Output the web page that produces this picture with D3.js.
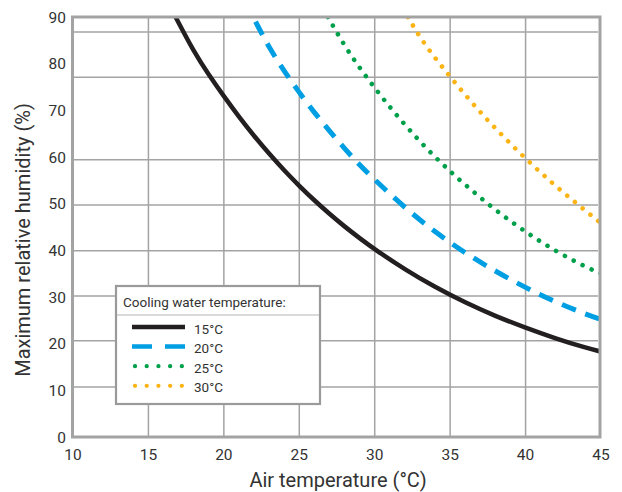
<!DOCTYPE html>
<html>
<head>
<meta charset="utf-8">
<script src="https://cdn.jsdelivr.net/npm/d3@7"></script>
<style>
  body { margin: 0; background: #fff; }
  text { font-family: Roboto, "Open Sans", sans-serif; fill: #333; }
</style>
</head>
<body>
<div id="chart"></div>
<script>
/* Data */
const xTicks = [10, 15, 20, 25, 30, 35, 40, 45];
const yTicks = [0, 10, 20, 30, 40, 50, 60, 70, 80, 90];
// horizontal grid lines sit slightly off the labels in the original
const yGrid = [10.7, 20.6, 30.2, 39.9, 49.7, 59.4, 77.1, 86.8];

const airTemp15 = [16.8, 18, 19, 20, 21, 22, 23, 24, 25, 26, 27, 28, 29, 30, 32, 34, 36, 38, 40, 42, 44, 45];
const humid15 = [90, 82.6, 77.6, 73, 68.6, 64.5, 60.7, 57.1, 53.8, 50.7, 47.8, 45.1, 42.6, 40.2, 35.9, 32.1, 28.8, 25.9, 23.4, 21.1, 19.1, 18.3];

const airTemp20 = [22.1, 23, 24, 25, 26, 27, 28, 29, 30, 32, 34, 36, 38, 40, 42, 44, 45];
const humid20 = [89, 83.4, 78.4, 73.8, 69.5, 65.6, 61.8, 58.3, 55.1, 49.1, 43.9, 39.4, 35.5, 32, 28.9, 26.3, 25.2];

const airTemp25 = [26.9, 28, 29, 30, 31, 32, 33, 34, 35, 36, 38, 40, 42, 44, 45];
const humid25 = [90, 83.8, 79.1, 74.8, 70.7, 66.9, 63.3, 60, 56.9, 54, 48.6, 43.9, 39.8, 36.4, 35];

const airTemp30 = [32.2, 33, 34, 35, 36, 37, 38, 40, 42, 44, 45];
const humid30 = [90, 85.6, 81.2, 77.2, 73.3, 69.6, 66.1, 59.6, 53.7, 48.4, 45.8];

const seriesNames = ['15°C', '20°C', '25°C', '30°C'];

const width = 622;
const height = 492;

const x = d3.scaleLinear().domain([10, 45]).range([73, 601]);
const y = d3.scaleLinear().domain([0, 90]).range([437, 17]);

const svg = d3
  .select('#chart')
  .append('svg')
  .attr('width', width)
  .attr('height', height);

const gridColor = '#a3a3a3';

// Grid
svg
  .append('g')
  .selectAll('line')
  .data(xTicks.slice(1, -1))
  .join('line')
  .attr('x1', (d) => x(d))
  .attr('x2', (d) => x(d))
  .attr('y1', y(90))
  .attr('y2', y(0))
  .attr('stroke', gridColor)
  .attr('stroke-width', 1.5);

svg
  .append('g')
  .selectAll('line')
  .data(yGrid)
  .join('line')
  .attr('x1', x(10))
  .attr('x2', x(45) - 3)
  .attr('y1', (d) => y(d))
  .attr('y2', (d) => y(d))
  .attr('stroke', gridColor)
  .attr('stroke-width', 1.5);

// Clip for curves
svg
  .append('defs')
  .append('clipPath')
  .attr('id', 'plot-clip')
  .append('rect')
  .attr('x', x(10))
  .attr('y', y(90))
  .attr('width', x(45) - x(10) - 1)
  .attr('height', y(0) - y(90));

const series = [
  { xs: airTemp15, ys: humid15, color: '#231f20', width: 4.5, dash: null, cap: 'butt' },
  { xs: airTemp20, ys: humid20, color: '#009fe3', width: 5, dash: '15,10', cap: 'butt' },
  { xs: airTemp25, ys: humid25, color: '#00a04b', width: 4.6, dash: '0.01,10', cap: 'round' },
  { xs: airTemp30, ys: humid30, color: '#fbb416', width: 4.6, dash: '0.01,10', cap: 'round' },
];

const line = d3
  .line()
  .x((d) => x(d[0]))
  .y((d) => y(d[1]))
  .curve(d3.curveBasis);

svg
  .append('g')
  .attr('clip-path', 'url(#plot-clip)')
  .selectAll('path')
  .data(series)
  .join('path')
  .attr('d', (s) => line(d3.zip(s.xs, s.ys)))
  .attr('fill', 'none')
  .attr('stroke', (s) => s.color)
  .attr('stroke-width', (s) => s.width)
  .attr('stroke-dasharray', (s) => s.dash)
  .attr('stroke-linecap', (s) => s.cap);

// Frame
svg
  .append('rect')
  .attr('x', x(10) - 0.5)
  .attr('y', y(90))
  .attr('width', x(45) - x(10) - 0.5)
  .attr('height', y(0) - y(90))
  .attr('fill', 'none')
  .attr('stroke', gridColor)
  .attr('stroke-width', 3);

// Tick labels
svg
  .append('g')
  .selectAll('text')
  .data(yTicks)
  .join('text')
  .attr('x', 66)
  .attr('y', (d) => y(d) + 5.5)
  .attr('text-anchor', 'end')
  .style('font-size', '15.5px')
  .text((d) => d);

svg
  .append('g')
  .selectAll('text')
  .data(xTicks)
  .join('text')
  .attr('x', (d) => x(d))
  .attr('y', 460)
  .attr('text-anchor', 'middle')
  .style('font-size', '15.5px')
  .text((d) => d);

// Axis titles
svg
  .append('text')
  .attr('x', 338)
  .attr('y', 487)
  .attr('text-anchor', 'middle')
  .style('font-size', '20px')
  .text('Air temperature (°C)');

svg
  .append('text')
  .attr('transform', 'translate(30, 240) rotate(-90)')
  .attr('text-anchor', 'middle')
  .style('font-size', '20px')
  .text('Maximum relative humidity (%)');

// Legend
const legend = svg.append('g');

legend
  .append('rect')
  .attr('x', 116)
  .attr('y', 286)
  .attr('width', 204)
  .attr('height', 118)
  .attr('fill', '#fff')
  .attr('stroke', '#9a9a9a')
  .attr('stroke-width', 2.2);

legend
  .append('text')
  .attr('x', 123)
  .attr('y', 307)
  .style('font-size', '13.5px')
  .text('Cooling water temperature:');

legend
  .append('line')
  .attr('x1', 117)
  .attr('x2', 319)
  .attr('y1', 315)
  .attr('y2', 315)
  .attr('stroke', '#b5b5b5')
  .attr('stroke-width', 1);

const rows = legend
  .selectAll('g.row')
  .data(series)
  .join('g')
  .attr('class', 'row')
  .attr('transform', (d, i) => `translate(0, ${327 + i * 19.6})`);

rows
  .append('line')
  .attr('x1', (s) => (s.cap === 'round' ? 135 : 132))
  .attr('x2', 185)
  .attr('stroke', (s) => s.color)
  .attr('stroke-width', (s) => (s.cap === 'round' ? 4.3 : 4.5))
  .attr('stroke-dasharray', (s, i) => (i === 1 ? '20,13' : i > 1 ? '0.01,11.7' : null))
  .attr('stroke-linecap', (s) => s.cap);

rows
  .append('text')
  .attr('x', 194)
  .attr('y', 6.5)
  .style('font-size', '13.5px')
  .text((s, i) => seriesNames[i]);
</script>
</body>
</html>
